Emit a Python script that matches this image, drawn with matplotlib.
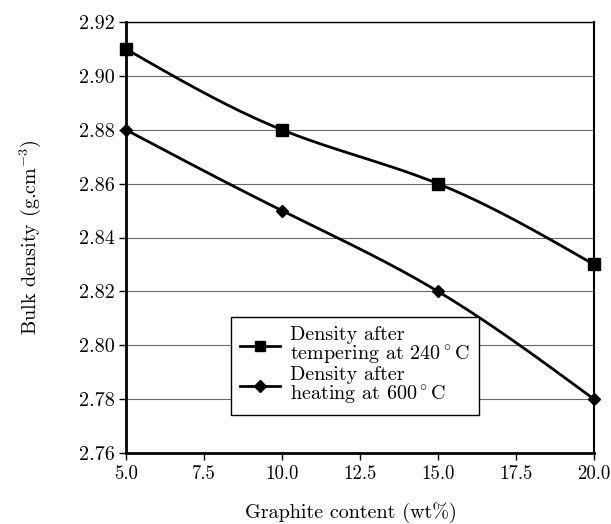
import numpy as np
import matplotlib
matplotlib.use("Agg")
import matplotlib.pyplot as plt

plt.rcParams['font.family'] = ['cmr10', 'DejaVu Serif']
plt.rcParams['mathtext.fontset'] = 'cm'
plt.rcParams['axes.formatter.use_mathtext'] = True

graphite = [5.0, 10.0, 15.0, 20.0]
dens_temper = [2.91, 2.88, 2.86, 2.83]
dens_heat = [2.88, 2.85, 2.82, 2.78]
xticks = [5.0, 7.5, 10.0, 12.5, 15.0, 17.5, 20.0]
yticks = [2.76, 2.78, 2.80, 2.82, 2.84, 2.86, 2.88, 2.90, 2.92]


def smooth(x, y, n=200):
    # natural cubic spline, just for drawing the curve
    x = np.asarray(x, float)
    y = np.asarray(y, float)
    k = len(x)
    h = np.diff(x)
    A = np.zeros((k, k))
    r = np.zeros(k)
    A[0, 0] = A[-1, -1] = 1
    for i in range(1, k - 1):
        A[i, i - 1] = h[i - 1]
        A[i, i] = 2 * (h[i - 1] + h[i])
        A[i, i + 1] = h[i]
        r[i] = 6 * ((y[i + 1] - y[i]) / h[i] - (y[i] - y[i - 1]) / h[i - 1])
    M = np.linalg.solve(A, r)
    xs = np.linspace(x[0], x[-1], n)
    ys = np.empty_like(xs)
    for j, t in enumerate(xs):
        i = min(np.searchsorted(x, t, side='right') - 1, k - 2)
        a = x[i + 1] - t
        b = t - x[i]
        ys[j] = (M[i] * a**3 + M[i + 1] * b**3) / (6 * h[i]) \
            + (y[i] / h[i] - M[i] * h[i] / 6) * a \
            + (y[i + 1] / h[i] - M[i + 1] * h[i] / 6) * b
    return xs, ys


fs = 14.5
fig = plt.figure(figsize=(6.11, 5.24), dpi=100)
ax = fig.add_axes([0.206, 0.1355, 0.766, 0.8225])

for yv in yticks:
    ax.axhline(yv, color='#6a6a6a', lw=0.8, zorder=1)

xs, ys = smooth(graphite, dens_temper)
ax.plot(xs, ys, color='black', lw=2, zorder=3, clip_on=False)
ax.plot(graphite, dens_temper, 's', color='black', ms=8, zorder=4, clip_on=False)
ax.plot([], [], '-s', color='black', lw=2, ms=7,
        label='Density after\ntempering at 240$^\\circ$C')

xs, ys = smooth(graphite, dens_heat)
ax.plot(xs, ys, color='black', lw=2, zorder=3, clip_on=False)
ax.plot(graphite, dens_heat, 'D', color='black', ms=6.5, zorder=4, clip_on=False)
ax.plot([], [], '-D', color='black', lw=2, ms=6,
        label='Density after\nheating at 600$^\\circ$C')

ax.set_xlim(5, 20)
ax.set_ylim(2.76, 2.92)
ax.set_xticks(xticks)
ax.set_xticklabels(['%.1f' % v for v in xticks], fontsize=13.5)
ax.set_yticks(yticks)
ax.set_yticklabels(['%.2f' % v for v in yticks], fontsize=fs)
ax.tick_params(direction='out', length=5, width=1, pad=3)
ax.tick_params(axis='x', pad=4)

ax.spines['left'].set_linewidth(2)
ax.spines['bottom'].set_linewidth(2)
ax.spines['right'].set_linewidth(1.5)
ax.spines['top'].set_linewidth(1)

ax.set_xlabel('Graphite content (wt%)', fontsize=fs)
ax.xaxis.set_label_coords(0.48, -0.113)
ax.set_ylabel('Bulk density (g.cm$^{-3}$)', fontsize=fs, labelpad=26)

leg = ax.legend(loc='lower left', bbox_to_anchor=(0.224, 0.088), borderaxespad=0,
                fancybox=False, edgecolor='black', framealpha=1, fontsize=fs,
                handlelength=2, labelspacing=0.0, borderpad=0.45, handletextpad=0.5)
leg.get_frame().set_linewidth(1)
for t in leg.get_texts():
    t.set_linespacing(0.95)

fig.savefig('out.png', dpi=100)
